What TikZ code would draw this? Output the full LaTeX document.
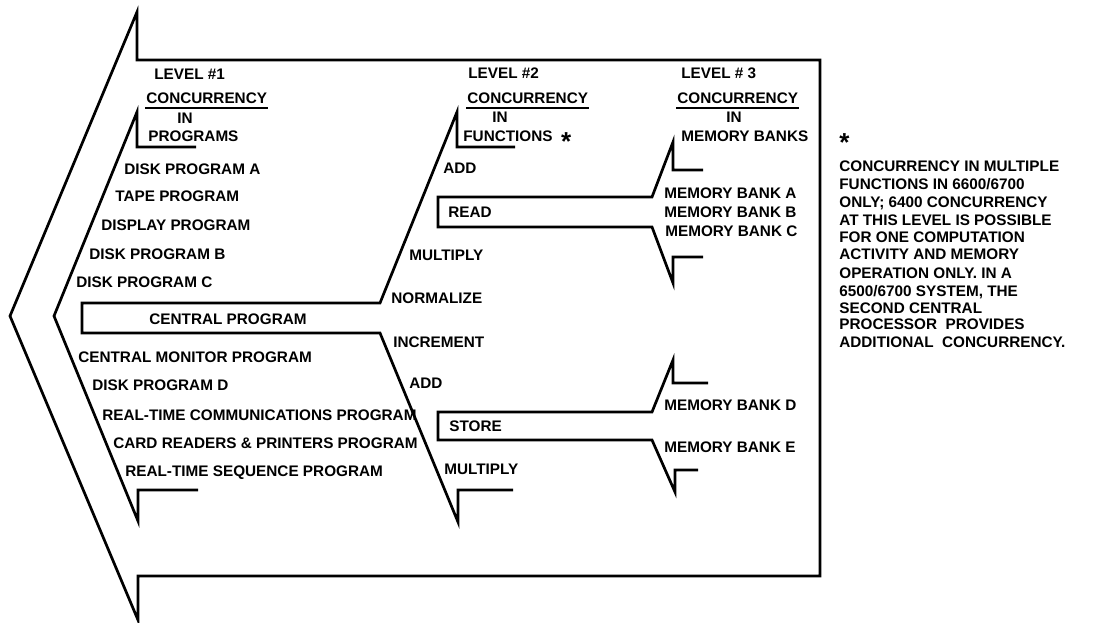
\documentclass[tikz,border=0pt]{standalone}
\usepackage{fontspec}
\setmainfont{Liberation Sans}
\newcommand{\bigast}{\raisebox{-9pt}[0pt][0pt]{\fontsize{26}{26}\selectfont *}}
\begin{document}
\begin{tikzpicture}[x=1pt,y=-1pt,line width=2.7pt,line join=miter,
  lbl/.style={font=\fontsize{15.3}{18}\selectfont\bfseries,inner sep=0pt,text height=11pt,text depth=0pt,anchor=west},
  ctr/.style={lbl,anchor=center},
  uline/.style={line width=1.4pt}]
\useasboundingbox (0,0) rectangle (1103,622);
% outer arrow
\draw (137,12) -- (10,316) -- (138,620) -- (138,576) -- (820,576) -- (820,60) -- (137,60) -- cycle;
% level 1 chevron
\draw (196,147) -- (137,147) -- (137,112) -- (54,316) -- (138,521) -- (138,490) -- (198,490);
% central program box and level 2 chevron
\draw (515,147) -- (457,147) -- (457,112) -- (380,303) -- (82,303) -- (82,333) -- (380,333) -- (458,522) -- (458,490) -- (513,490);
% READ
\draw (703,170) -- (673,170) -- (673,142) -- (652,197) -- (438,197) -- (438,227) -- (652,227) -- (673,283) -- (673,257) -- (703,257);
% STORE
\draw (708,383) -- (673,383) -- (673,360) -- (652,412) -- (438,412) -- (438,440) -- (652,440) -- (675,492) -- (675,470) -- (698,470);

% level 1 headings
\node[lbl] (l1) at (153,74) {LEVEL \#1};
\node[lbl] (c1) at (145,98) {CONCURRENCY};
\draw[uline] ([yshift=-3pt]c1.south west) -- ([yshift=-3pt]c1.south east);
\node[ctr] (i1) at (185,118) {IN};
\node[lbl] (p1) at (147,136) {PROGRAMS};
% level 1 items
\node[lbl] (a1) at (123,169) {DISK PROGRAM A};
\node[lbl] (a2) at (114,196) {TAPE PROGRAM};
\node[lbl] (a3) at (100,225) {DISPLAY PROGRAM};
\node[lbl] (a4) at (88,254) {DISK PROGRAM B};
\node[lbl] (a5) at (75,282) {DISK PROGRAM C};
\node[ctr] (cp) at (228,319) {CENTRAL PROGRAM};
\node[lbl] (b1) at (77,357) {CENTRAL MONITOR PROGRAM};
\node[lbl] (b2) at (91,385) {DISK PROGRAM D};
\node[lbl] (b3) at (101,415) {REAL-TIME COMMUNICATIONS PROGRAM};
\node[lbl] (b4) at (112,443) {CARD READERS \& PRINTERS PROGRAM};
\node[lbl] (b5) at (124,471) {REAL-TIME SEQUENCE PROGRAM};

% level 2 headings
\node[lbl] (l2) at (467,73) {LEVEL \#2};
\node[lbl] (c2) at (466,98) {CONCURRENCY};
\draw[uline] ([yshift=-3pt]c2.south west) -- ([yshift=-3pt]c2.south east);
\node[ctr] (i2) at (500,117) {IN};
\node[lbl] (f2) at (462,136) {FUNCTIONS \ \bigast};
% level 2 items
\node[lbl] (d1) at (442,168) {ADD};
\node[lbl] (rd) at (447,212) {READ};
\node[lbl] (d2) at (408,255) {MULTIPLY};
\node[lbl] (d3) at (390,298) {NORMALIZE};
\node[lbl] (e1) at (392,342) {INCREMENT};
\node[lbl] (e2) at (408,383) {ADD};
\node[lbl] (st) at (448,426) {STORE};
\node[lbl] (e3) at (443,469) {MULTIPLY};

% level 3 headings
\node[lbl] (l3) at (680,73) {LEVEL \# 3};
\node[lbl] (c3) at (676,98) {CONCURRENCY};
\draw[uline] ([yshift=-3pt]c3.south west) -- ([yshift=-3pt]c3.south east);
\node[ctr] (i3) at (734,117) {IN};
\node[lbl] (m3) at (680,136) {MEMORY BANKS};
% level 3 items
\node[lbl] (ma) at (663,193) {MEMORY BANK A};
\node[lbl] (mb) at (663,212) {MEMORY BANK B};
\node[lbl] (mc) at (664,231) {MEMORY BANK C};
\node[lbl] (md) at (663,405) {MEMORY BANK D};
\node[lbl] (me) at (663,447) {MEMORY BANK E};

% note
\node[lbl] (star) at (838,137) {\bigast};
\node[lbl] (n1) at (838,166) {CONCURRENCY IN MULTIPLE};
\node[lbl] (n2) at (838,184) {FUNCTIONS IN 6600/6700};
\node[lbl] (n3) at (838,202) {ONLY; 6400 CONCURRENCY};
\node[lbl] (n4) at (838,220) {AT THIS LEVEL IS POSSIBLE};
\node[lbl] (n5) at (838,237) {FOR ONE COMPUTATION};
\node[lbl] (n6) at (838,254) {ACTIVITY AND MEMORY};
\node[lbl] (n7) at (838,273) {OPERATION ONLY. IN A};
\node[lbl] (n8) at (838,291) {6500/6700 SYSTEM, THE};
\node[lbl] (n9) at (838,308) {SECOND CENTRAL};
\node[lbl] (n10) at (838,324) {PROCESSOR \ PROVIDES};
\node[lbl] (n11) at (838,342) {ADDITIONAL \ CONCURRENCY.};
\end{tikzpicture}
\end{document}
